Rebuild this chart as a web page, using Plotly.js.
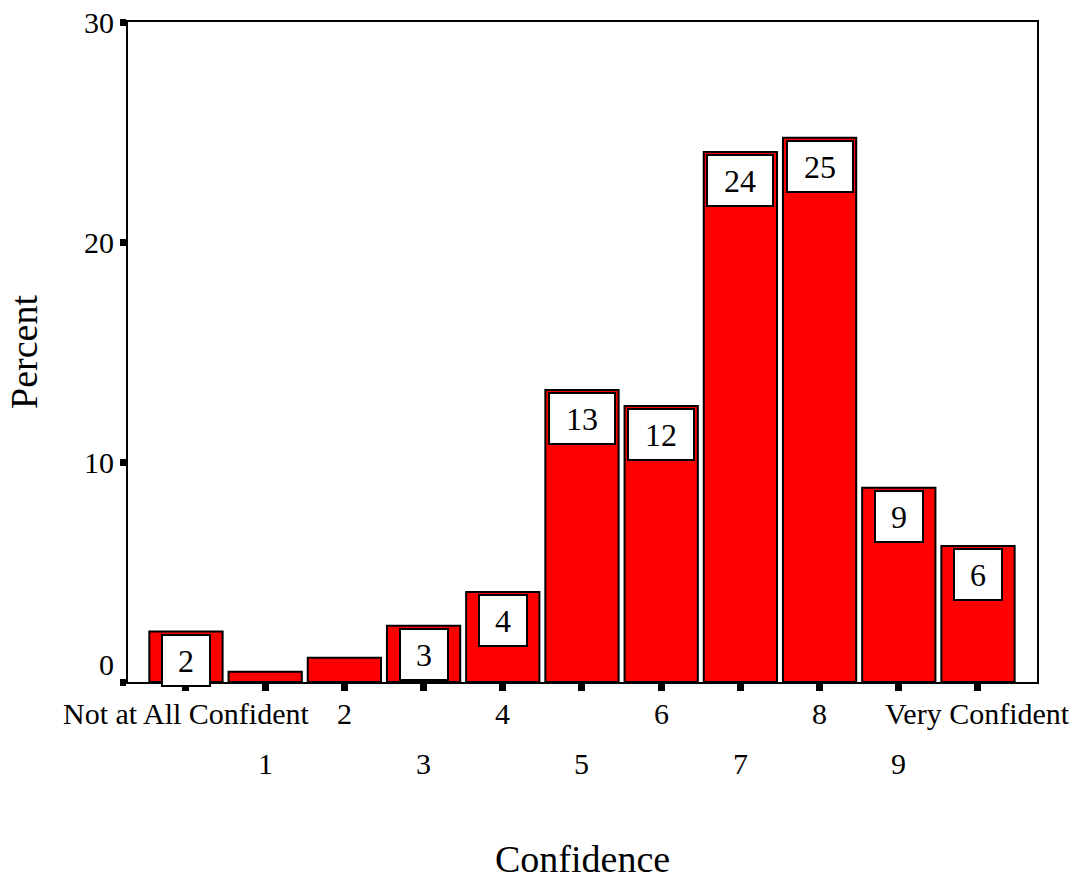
<!DOCTYPE html>
<html>
<head>
<meta charset="utf-8">
<script src="https://cdn.plot.ly/plotly-3.0.1.min.js"></script>
<style>html,body{margin:0;padding:0;background:#fff;}#chart{width:1074px;height:882px;}</style>
</head>
<body>
<div id="chart"></div>
<script>
// Data
const categories = [0, 1, 2, 3, 4, 5, 6, 7, 8, 9, 10];
const tickLabels = ["Not at All Confident", "1", "2", "3", "4", "5", "6", "7", "8", "9", "Very Confident"];
const percentValues = [2.29, 0.47, 1.1, 2.56, 4.09, 13.27, 12.55, 24.09, 24.74, 8.83, 6.18];
const barLabels = ["2", "", "", "3", "4", "13", "12", "24", "25", "9", "6"];
const yTicks = [0, 10, 20, 30];

const FONT = "'Liberation Serif', 'Times New Roman', serif";

const trace = {
  type: "bar",
  x: categories,
  y: percentValues,
  width: 0.925,
  marker: { color: "#ff0000", line: { color: "#000000", width: 2 } },
  hoverinfo: "skip"
};

const annotations = [];
// value boxes
categories.forEach((c, i) => {
  if (!barLabels[i]) return;
  annotations.push({
    x: c, y: percentValues[i], xref: "x", yref: "y",
    text: barLabels[i], showarrow: false,
    xanchor: "center", yanchor: "top", yshift: -2,
    width: barLabels[i].length > 1 ? 64 : 46, height: 49,
    bgcolor: "#ffffff", bordercolor: "#000000", borderwidth: 2, borderpad: 0,
    font: { family: FONT, size: 32, color: "#000" }
  });
});
// staggered category labels
categories.forEach((c, i) => {
  annotations.push({
    x: c, y: 0, xref: "x", yref: "paper",
    text: tickLabels[i], showarrow: false,
    xanchor: "center", yanchor: "middle",
    yshift: i % 2 === 0 ? -31 : -81,
    font: { family: FONT, size: 30, color: "#000" }
  });
});
// y tick label "0" sits raised above its tick
annotations.push({
  x: 0, y: yTicks[0], xref: "paper", yref: "y", text: String(yTicks[0]), showarrow: false,
  xanchor: "right", yanchor: "middle", xshift: -12, yshift: 18,
  font: { family: FONT, size: 30, color: "#000" }
});
// axis titles
annotations.push({
  x: 0.5, y: 0, xref: "paper", yref: "paper", text: "Confidence", showarrow: false,
  xanchor: "center", yanchor: "middle", yshift: -177,
  font: { family: FONT, size: 38, color: "#000" }
});
annotations.push({
  x: 0, y: 0.5, xref: "paper", yref: "paper", text: "Percent", showarrow: false,
  xanchor: "center", yanchor: "middle", xshift: -104, textangle: -90,
  font: { family: FONT, size: 38, color: "#000" }
});

const layout = {
  width: 1074, height: 882,
  margin: { l: 128, r: 37, t: 22, b: 200 },
  paper_bgcolor: "#ffffff", plot_bgcolor: "#ffffff",
  showlegend: false,
  bargap: 0.075,
  xaxis: {
    range: [-0.732, 10.745],
    tickvals: categories, ticktext: tickLabels,
    showticklabels: false,
    ticks: "outside", ticklen: 7, tickwidth: 7, tickcolor: "#000",
    showgrid: false, zeroline: false,
    showline: true, linecolor: "#000", linewidth: 2, mirror: true
  },
  yaxis: {
    range: [0, 30],
    tickvals: yTicks, ticktext: yTicks.map(v => v === 0 ? "" : String(v)),
    ticks: "outside", ticklen: 6, tickwidth: 7, tickcolor: "#000",
    tickfont: { family: FONT, size: 30, color: "#000" },
    showgrid: false, zeroline: false,
    showline: true, linecolor: "#000", linewidth: 2, mirror: true
  },
  annotations: annotations
};

Plotly.newPlot("chart", [trace], layout, { staticPlot: true, displayModeBar: false });
</script>
</body>
</html>
